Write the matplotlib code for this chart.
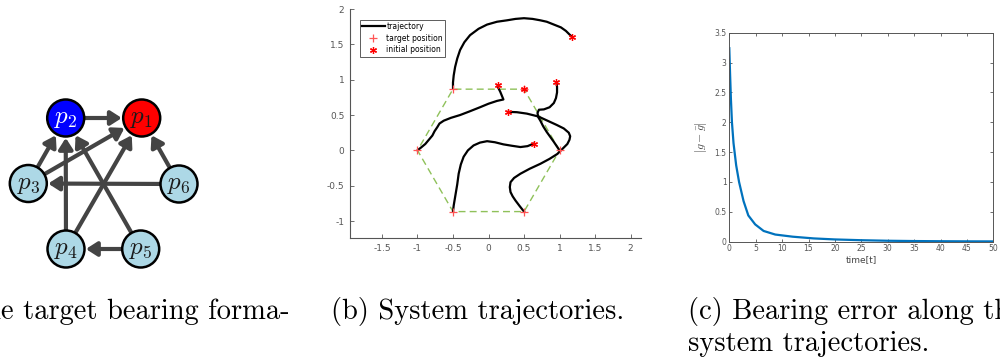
import matplotlib
matplotlib.use("Agg")
import matplotlib.pyplot as plt
from matplotlib.patches import Circle, FancyArrowPatch

plt.rcParams['mathtext.fontset'] = 'cm'

# (a) bearing formation graph
node_names = ['p1', 'p2', 'p3', 'p4', 'p5', 'p6']
node_labels = [r'$p_1$', r'$p_2$', r'$p_3$', r'$p_4$', r'$p_5$', r'$p_6$']
node_colors = ['#ff0000', '#0000ff', '#add8e6', '#add8e6', '#add8e6', '#add8e6']
node_text_colors = ['#1a1a1a', 'white', '#1a1a1a', '#1a1a1a', '#1a1a1a', '#1a1a1a']
edges = [('p2', 'p1'), ('p3', 'p2'), ('p3', 'p1'), ('p4', 'p2'), ('p4', 'p1'),
         ('p5', 'p2'), ('p5', 'p4'), ('p6', 'p1'), ('p6', 'p3')]

# (b) system trajectories
target_x = [1.0, 0.5, -0.5, -1.0, -0.5, 0.5, 1.0]
target_y = [0.0, 0.866, 0.866, 0.0, -0.866, -0.866, 0.0]
init_x = [1.17, 0.13, 0.5, 0.955, 0.28, 0.635]
init_y = [1.61, 0.92, 0.87, 0.965, 0.545, 0.095]
traj1_x = [1.17, 1.14, 1.09, 1.02, 0.92, 0.82, 0.73, 0.62, 0.50, 0.38, 0.26, 0.12, -0.02, -0.14, -0.26, -0.34, -0.40, -0.44, -0.47, -0.49, -0.50, -0.50]
traj1_y = [1.61, 1.64, 1.69, 1.74, 1.78, 1.82, 1.84, 1.86, 1.87, 1.86, 1.84, 1.82, 1.78, 1.72, 1.63, 1.53, 1.42, 1.30, 1.18, 1.06, 0.96, 0.87]
traj2_x = [0.13, 0.14, 0.165, 0.21, 0.12, 0.0, -0.12, -0.27, -0.40, -0.53, -0.63, -0.69, -0.72, -0.76, -0.79, -0.84, -0.89, -0.95, -1.0]
traj2_y = [0.92, 0.88, 0.83, 0.72, 0.70, 0.66, 0.61, 0.55, 0.50, 0.46, 0.42, 0.38, 0.33, 0.27, 0.21, 0.15, 0.09, 0.04, 0.0]
traj3_x = [0.955, 0.965, 0.965, 0.95, 0.92, 0.86, 0.78, 0.71, 0.69, 0.70, 0.73, 0.77, 0.82, 0.87, 0.92, 0.96, 1.0]
traj3_y = [0.965, 0.90, 0.82, 0.74, 0.67, 0.61, 0.58, 0.575, 0.53, 0.47, 0.42, 0.34, 0.26, 0.19, 0.12, 0.06, 0.0]
traj4_x = [0.28, 0.40, 0.54, 0.70, 0.83, 0.96, 1.06, 1.13, 1.15, 1.14, 1.11, 1.05, 0.97, 0.86, 0.73, 0.58, 0.45, 0.36, 0.31, 0.30, 0.31, 0.34, 0.38, 0.44, 0.5]
traj4_y = [0.545, 0.54, 0.52, 0.48, 0.42, 0.36, 0.31, 0.25, 0.20, 0.15, 0.09, 0.03, -0.05, -0.12, -0.19, -0.26, -0.33, -0.39, -0.45, -0.52, -0.59, -0.65, -0.71, -0.79, -0.866]
traj5_x = [0.635, 0.55, 0.45, 0.33, 0.21, 0.09, -0.02, -0.12, -0.21, -0.29, -0.35, -0.39, -0.42, -0.44, -0.47, -0.49, -0.5]
traj5_y = [0.095, 0.06, 0.047, 0.065, 0.085, 0.115, 0.13, 0.11, 0.07, 0.00, -0.09, -0.20, -0.33, -0.48, -0.66, -0.78, -0.866]
trajs = [(traj1_x, traj1_y), (traj2_x, traj2_y), (traj3_x, traj3_y), (traj4_x, traj4_y), (traj5_x, traj5_y)]

# (c) bearing error
t_vals = [0, 0.15, 0.3, 0.5, 0.8, 1.3, 1.85, 2.7, 3.6, 4.9, 6.5, 8.7, 12, 16, 20, 25, 30, 35, 40, 45, 50]
err_vals = [3.24, 2.80, 2.40, 2.00, 1.65, 1.28, 1.00, 0.68, 0.44, 0.29, 0.18, 0.12, 0.084, 0.055, 0.038, 0.025, 0.016, 0.011, 0.008, 0.006, 0.005]

fig = plt.figure(figsize=(10, 3.62), dpi=100)

# ---- panel a, drawn in pixel coordinates
ax_a = fig.add_axes([0, 0, 1, 1])
ax_a.set_xlim(0, 1000)
ax_a.set_ylim(362, 0)
ax_a.axis('off')
layout = {'p1': (141.7, 118), 'p2': (65.7, 118), 'p3': (28.3, 183.5),
          'p4': (66, 249), 'p5': (140.7, 249), 'p6': (179, 184)}
r = 18.5
for a, b in edges:
    arr = FancyArrowPatch(layout[a], layout[b], arrowstyle='-|>,head_length=0.5,head_width=0.32',
                          mutation_scale=13, lw=3.0, color='#444444',
                          shrinkA=r * 0.72, shrinkB=r * 0.72 + 1, zorder=2)
    ax_a.add_patch(arr)
for name, lab, fc, tc in zip(node_names, node_labels, node_colors, node_text_colors):
    x, y = layout[name]
    ax_a.add_patch(Circle((x, y), r, fc=fc, ec='black', lw=1.8, zorder=3))
    ax_a.text(x, y, lab, ha='center', va='center', fontsize=18, color=tc, zorder=4)

# ---- panel b
ax_b = fig.add_axes([0.35, 0.3425, 0.2905, 0.6326])
ax_b.plot(target_x, target_y, '--', color='#8fc15a', lw=1.0, dashes=(5, 3))
for i, (tx, ty) in enumerate(trajs):
    ax_b.plot(tx, ty, color='black', lw=1.6, label='trajectory' if i == 0 else None)
ax_b.plot(target_x[:-1], target_y[:-1], '+', color='#ff5555', ms=6, mew=0.9, label='target position', ls='none')
ax_b.plot(init_x, init_y, marker=(6, 2, 0), color='#ff0000', ms=5, mew=0.9, ls='none', label='initial position')
ax_b.set_xlim(-1.95, 2.14)
ax_b.set_ylim(-1.24, 2.0)
ax_b.set_xticks([-1.5, -1, -0.5, 0, 0.5, 1, 1.5, 2])
ax_b.set_xticklabels(['-1.5', '-1', '-0.5', '0', '0.5', '1', '1.5', '2'])
ax_b.set_yticks([-1, -0.5, 0, 0.5, 1, 1.5, 2])
ax_b.set_yticklabels(['-1', '-0.5', '0', '0.5', '1', '1.5', '2'])
for s in ['top', 'right']:
    ax_b.spines[s].set_visible(False)
for s in ['left', 'bottom']:
    ax_b.spines[s].set_color('#555555')
    ax_b.spines[s].set_linewidth(0.8)
ax_b.tick_params(direction='in', length=3, width=0.6, colors='#555555', labelsize=6.5, pad=4)
leg = ax_b.legend(loc='upper left', bbox_to_anchor=(0.02, 0.97), fontsize=5.5, frameon=True,
                  fancybox=False, edgecolor='#333333', handlelength=3, borderpad=0.3,
                  labelspacing=0.35, handletextpad=0.2)
leg.get_frame().set_linewidth(0.7)

# ---- panel c
ax_c = fig.add_axes([0.7293, 0.3323, 0.264, 0.5774])
ax_c.plot(t_vals, err_vals, color='#0072bd', lw=1.6)
ax_c.set_xlim(0, 50)
ax_c.set_ylim(0, 3.5)
ax_c.set_xticks(range(0, 51, 5))
ax_c.set_yticks([0, 0.5, 1, 1.5, 2, 2.5, 3, 3.5])
ax_c.set_yticklabels(['0', '0.5', '1', '1.5', '2', '2.5', '3', '3.5'])
for s in ax_c.spines.values():
    s.set_color('#555555')
    s.set_linewidth(0.7)
ax_c.tick_params(direction='in', length=2.5, width=0.6, colors='#555555', labelsize=5.5,
                 top=True, right=True, pad=2)
ax_c.set_xlabel('time[t]', fontsize=6.5, color='#444444', labelpad=1)
ax_c.set_ylabel(r'$|g-\bar{g}|$', fontsize=8.5, color='#444444', labelpad=4)

# ---- captions
cap = dict(fontfamily='cmr10', fontsize=20.5, color='black', va='center')
fig.text(0.290, 1 - 311 / 362, '(a) The target bearing forma-', ha='right', **cap)
fig.text(0.331, 1 - 311 / 362, '(b) System trajectories.', ha='left', **cap)
fig.text(0.688, 1 - 311 / 362, '(c) Bearing error along the', ha='left', **cap)
fig.text(0.688, 1 - 344 / 362, 'system trajectories.', ha='left', **cap)

fig.savefig('out.png', dpi=100)
